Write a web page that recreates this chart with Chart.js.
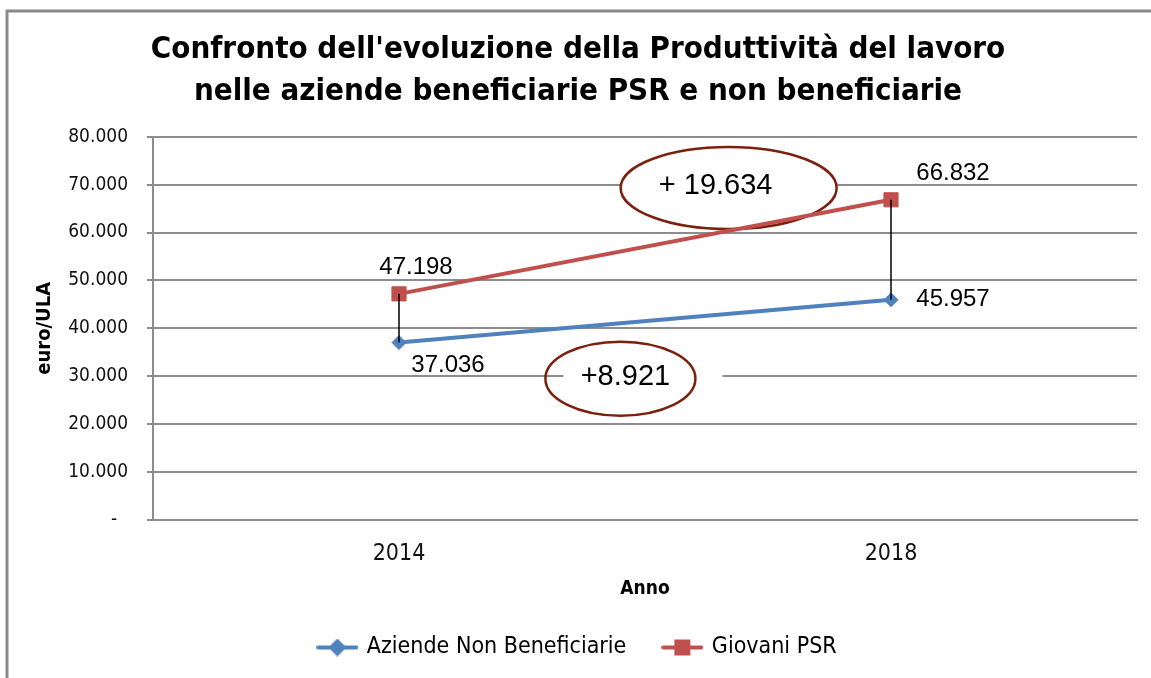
<!DOCTYPE html>
<html>
<head>
<meta charset="utf-8">
<script src="https://cdn.jsdelivr.net/npm/chart.js@4.4.1/dist/chart.umd.min.js"></script>
<style>
  html, body { margin: 0; padding: 0; background: #fff; }
</style>
</head>
<body>
<canvas id="chart" width="1151" height="678"></canvas>
<script>
const anni = ['2014', '2018'];
const nonBeneficiarie = [37036, 45957];
const giovaniPSR = [47198, 66832];
const yMax = 80000;
const yStep = 10000;

const cond = "'DejaVu Sans Condensed', 'DejaVu Sans', sans-serif";
const sans = "'Liberation Sans', Arial, sans-serif";
const gridGrey = '#8c8c8c';

// numeri all'italiana: 47.198
const fmt = v => String(Math.round(v)).replace(/\B(?=(\d{3})+(?!\d))/g, '.');

// spostamento delle etichette rispetto al punto [dx, dy]
const labelShift = [
    [[49, 23], [62, 0]],
    [[17, -26], [62, -26]]
];

// ovali con la differenza 2018-2014 (posizione in unità del grafico)
const notes = [
    { serie: 1, at: 0.67, value: 69300, rx: 108, ry: 41, box: [-108, 109], dx: -13, prefix: '+ ' },
    { serie: 0, at: 0.45, value: 29500, rx: 75, ry: 37, box: [-57, 102], dx: 5, prefix: '+' }
];

function legendIcon(color, style) {
    const c = document.createElement('canvas');
    c.width = 42; c.height = 18;
    const g = c.getContext('2d');
    g.strokeStyle = color;
    g.fillStyle = color;
    g.lineWidth = 4;
    g.lineCap = 'round';
    g.beginPath();
    g.moveTo(2, 9); g.lineTo(40, 9);
    g.stroke();
    g.beginPath();
    if (style === 'rect') {
        g.rect(13, 1, 16, 16);
    } else {
        g.moveTo(21, 0); g.lineTo(30, 9); g.lineTo(21, 18); g.lineTo(12, 9);
        g.closePath();
    }
    g.fill();
    return c;
}

const framePlugin = {
    id: 'frame',
    beforeDraw(chart) {
        const ctx = chart.ctx;
        ctx.save();
        ctx.fillStyle = '#fff';
        ctx.fillRect(0, 0, chart.width, chart.height);
        ctx.strokeStyle = '#8a8a8a';
        ctx.lineWidth = 3;
        ctx.beginPath();
        ctx.moveTo(7, chart.height);
        ctx.lineTo(7, 11);
        ctx.lineTo(chart.width, 11);
        ctx.stroke();
        ctx.restore();
    }
};

const notesPlugin = {
    id: 'notes',
    beforeDatasetsDraw(chart) {
        const ctx = chart.ctx;
        const xs = chart.scales.x, ys = chart.scales.y;
        const x0 = xs.getPixelForValue(0), x1 = xs.getPixelForValue(1);
        const series = [nonBeneficiarie, giovaniPSR];
        ctx.save();
        notes.forEach(n => {
            const cx = x0 + n.at * (x1 - x0);
            const cy = ys.getPixelForValue(n.value);
            ctx.fillStyle = '#fff';
            ctx.fillRect(cx + n.box[0], cy - 19, n.box[1] - n.box[0], 38);
            ctx.beginPath();
            ctx.ellipse(cx, cy, n.rx, n.ry, 0, 0, Math.PI * 2);
            ctx.strokeStyle = '#7b200d';
            ctx.lineWidth = 2.5;
            ctx.stroke();
            const s = series[n.serie];
            ctx.fillStyle = '#000';
            ctx.font = '29px ' + sans;
            ctx.textAlign = 'center';
            ctx.textBaseline = 'middle';
            ctx.fillText(n.prefix + fmt(s[1] - s[0]), cx + n.dx, cy - 2);
        });
        ctx.restore();
    },
    afterDatasetsDraw(chart) {
        const ctx = chart.ctx;
        const xs = chart.scales.x, ys = chart.scales.y;
        ctx.save();
        // linee verticali tra le due serie
        ctx.strokeStyle = '#000';
        ctx.lineWidth = 1.5;
        anni.forEach((a, i) => {
            const x = xs.getPixelForValue(i);
            ctx.beginPath();
            ctx.moveTo(x, ys.getPixelForValue(giovaniPSR[i]));
            ctx.lineTo(x, ys.getPixelForValue(nonBeneficiarie[i]));
            ctx.stroke();
        });
        // etichette dei valori
        ctx.fillStyle = '#000';
        ctx.font = '24px ' + sans;
        ctx.textAlign = 'center';
        ctx.textBaseline = 'middle';
        chart.data.datasets.forEach((ds, d) => {
            ds.data.forEach((v, i) => {
                const [dx, dy] = labelShift[d][i];
                ctx.fillText(fmt(v), xs.getPixelForValue(i) + dx, ys.getPixelForValue(v) + dy);
            });
        });
        ctx.restore();
    }
};

new Chart(document.getElementById('chart'), {
    type: 'line',
    data: {
        labels: anni,
        datasets: [
            {
                label: 'Aziende Non Beneficiarie',
                data: nonBeneficiarie,
                borderColor: '#4f81bd',
                backgroundColor: '#4f81bd',
                borderWidth: 4,
                pointStyle: 'rectRot',
                pointRadius: 7,
                pointBorderWidth: 1,
                tension: 0
            },
            {
                label: 'Giovani PSR',
                data: giovaniPSR,
                borderColor: '#c0504d',
                backgroundColor: '#c0504d',
                borderWidth: 4,
                pointStyle: 'rect',
                pointRadius: 10,
                pointBorderWidth: 1,
                tension: 0
            }
        ]
    },
    options: {
        responsive: false,
        animation: false,
        events: [],
        layout: { padding: { left: 19, right: 14, top: 0, bottom: 9 } },
        plugins: {
            title: {
                display: true,
                text: ["Confronto dell'evoluzione della Produttività del lavoro", 'nelle aziende beneficiarie PSR e non beneficiarie'],
                color: '#000',
                font: { family: cond, size: 31, weight: 'bold', lineHeight: 1.35 },
                padding: { top: 29, bottom: 24 }
            },
            legend: {
                position: 'bottom',
                labels: {
                    usePointStyle: true,
                    pointStyleWidth: 36,
                    padding: 38,
                    color: '#000',
                    font: { family: cond, size: 23 },
                    generateLabels: chart => chart.data.datasets.map((ds, i) => ({
                        text: ds.label,
                        pointStyle: legendIcon(ds.borderColor, ds.pointStyle),
                        fillStyle: ds.borderColor,
                        strokeStyle: ds.borderColor,
                        lineWidth: 0,
                        hidden: false,
                        datasetIndex: i
                    }))
                }
            },
            tooltip: { enabled: false }
        },
        scales: {
            x: {
                offset: true,
                grid: { display: false, drawTicks: false },
                border: { display: true, color: gridGrey, width: 2 },
                ticks: { color: '#111', font: { family: cond, size: 23 }, padding: 20 },
                title: {
                    display: true, text: 'Anno', color: '#000',
                    font: { family: cond, size: 19, weight: 'bold' },
                    padding: { top: 0, bottom: -2 }
                },
                afterFit: s => { s.height = 78; }
            },
            y: {
                min: 0,
                max: yMax,
                ticks: {
                    stepSize: yStep,
                    padding: 19,
                    color: '#111',
                    font: { family: cond, size: 19 },
                    callback: v => v === 0 ? '-  ' : fmt(v)
                },
                grid: { color: gridGrey, lineWidth: 2, tickLength: 6, drawTicks: true },
                border: { display: true, color: gridGrey, width: 2 },
                title: {
                    display: true, text: 'euro/ULA', color: '#000',
                    font: { family: cond, size: 20, weight: 'bold' },
                    padding: { top: 14, bottom: 0 }
                },
                afterFit: s => { s.width = 134; }
            }
        }
    },
    plugins: [framePlugin, notesPlugin]
});
</script>
</body>
</html>
